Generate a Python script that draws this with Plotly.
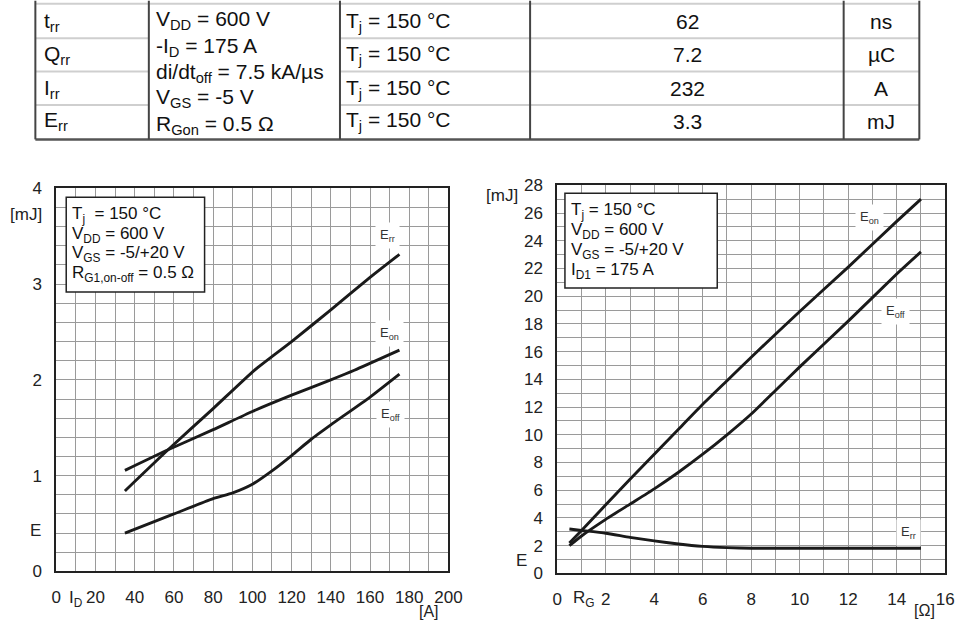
import plotly.graph_objects as go

W, H = 975, 629
# the returned picture shows the page slightly inset; these undo that so marks land
# where the reference has them
SX, CX = 0.985, 6.5
SY, CY = 0.972, 8.3

# ---- table data ----
tbl_symbols = ['t<sub>rr</sub>', 'Q<sub>rr</sub>', 'I<sub>rr</sub>', 'E<sub>rr</sub>']
tbl_conditions = ['V<sub>DD</sub> = 600 V', '-I<sub>D</sub> = 175 A', 'di/dt<sub>off</sub> = 7.5 kA/µs',
                  'V<sub>GS</sub> = -5 V', 'R<sub>Gon</sub> = 0.5 Ω']
tbl_temp = ['T<sub>j</sub> = 150 °C'] * 4
tbl_values = ['62', '7.2', '232', '3.3']
tbl_units = ['ns', 'µC', 'A', 'mJ']

# ---- left chart: E vs I_D ----
id_err = [35, 57, 80, 101, 120, 140, 160, 175]
e_err_id = [0.84, 1.27, 1.70, 2.10, 2.40, 2.73, 3.07, 3.31]
id_eon = [35, 57, 80, 100, 120, 140, 152, 175]
e_eon_id = [1.055, 1.27, 1.48, 1.67, 1.84, 2.0, 2.10, 2.31]
id_eoff = [35, 60, 80, 90, 100, 110, 120, 130, 140, 160, 175]
e_eoff_id = [0.4, 0.6, 0.76, 0.82, 0.91, 1.05, 1.21, 1.38, 1.53, 1.82, 2.06]

# ---- right chart: E vs R_G ----
rg_eon = [0.5, 1, 2, 3, 4, 5, 6, 7, 8, 10, 12, 14, 15]
e_eon_rg = [2.2, 3.1, 4.95, 6.8, 8.6, 10.4, 12.2, 13.9, 15.6, 18.9, 22.1, 25.4, 27.0]
rg_eoff = [0.5, 1, 2, 3, 4, 5, 6, 7, 8, 9, 10, 12, 14, 15]
e_eoff_rg = [2.0, 2.7, 3.9, 5.0, 6.1, 7.3, 8.6, 10.0, 11.5, 13.2, 14.9, 18.2, 21.6, 23.2]
rg_err = [0.5, 1, 2, 3, 4, 5, 6, 7, 8, 10, 12, 15]
e_err_rg = [3.2, 3.1, 2.9, 2.6, 2.35, 2.12, 1.95, 1.86, 1.82, 1.82, 1.82, 1.82]

box_left = ['T<sub>j</sub>  = 150 °C', 'V<sub>DD</sub> = 600 V', 'V<sub>GS</sub> = -5/+20 V',
            'R<sub>G1,on-off</sub> = 0.5 Ω']
box_right = ['T<sub>j</sub> = 150 °C', 'V<sub>DD</sub> = 600 V', 'V<sub>GS</sub> = -5/+20 V',
             'I<sub>D1</sub> = 175 A']


def px(x):
    return (x - CX) / SX / W


def py(y):
    return 1 - (y - CY) / SY / H


FONT = 'Arial, Liberation Sans, sans-serif'
INK = '#1a1a1a'
GRID = '#9a9a9a'

fig = go.Figure()

curve = dict(color=INK, width=2.9, shape='spline', smoothing=0.5)
for xs, ys in [(id_err, e_err_id), (id_eon, e_eon_id), (id_eoff, e_eoff_id)]:
    fig.add_trace(go.Scatter(x=xs, y=ys, mode='lines', line=curve, showlegend=False,
                             hoverinfo='skip', xaxis='x', yaxis='y'))
for xs, ys in [(rg_eon, e_eon_rg), (rg_eoff, e_eoff_rg), (rg_err, e_err_rg)]:
    fig.add_trace(go.Scatter(x=xs, y=ys, mode='lines', line=curve, showlegend=False,
                             hoverinfo='skip', xaxis='x2', yaxis='y2'))


def axis(domain, rng, dtick, minor, anchor):
    return dict(domain=domain, range=rng, dtick=dtick, tick0=0, anchor=anchor,
                showline=True, mirror=True, linecolor='#222', linewidth=2,
                showgrid=True, gridcolor=GRID, gridwidth=1, zeroline=False,
                minor=dict(dtick=minor, tick0=0, showgrid=True, gridcolor=GRID, gridwidth=1),
                ticks='', ticklabelstandoff=9,
                tickfont=dict(family=FONT, size=17, color='#222'), fixedrange=True)


annotations = []
shapes = []


def text(x, y, s, size=17, xanchor='center', bg=None, color='#222'):
    a = dict(xref='paper', yref='paper', x=px(x), y=py(y), text=s, showarrow=False,
             xanchor=xanchor, yanchor='middle', font=dict(family=FONT, size=size, color=color))
    if bg:
        a.update(bgcolor=bg, borderpad=4)
    annotations.append(a)


def line(x0, y0, x1, y1, color, width):
    shapes.append(dict(type='line', xref='paper', yref='paper', x0=px(x0), y0=py(y0),
                       x1=px(x1), y1=py(y1), line=dict(color=color, width=width)))


# ---- table ----
cols = [37, 151, 343, 534, 849, 925]
rows = [3, 37.5, 71, 104.5, 139]
line(cols[0], rows[0], cols[-1], rows[0], '#cfcfcf', 2)
for yy in rows[1:-1]:
    line(cols[0], yy, cols[1], yy, '#cfcfcf', 2)
    line(cols[2], yy, cols[-1], yy, '#cfcfcf', 2)
line(cols[0], rows[-1], cols[-1], rows[-1], '#555', 2.5)
for xx in cols:
    line(xx, 0, xx, rows[-1], '#444', 2)

row_mid = [21, 54, 88, 121]
for i in range(4):
    text(44, row_mid[i], tbl_symbols[i], size=21, xanchor='left', color='#111')
    text(347, row_mid[i], tbl_temp[i], size=21, xanchor='left', color='#111')
    text(692, row_mid[i], tbl_values[i], size=21, color='#111')
    text(887, row_mid[i], tbl_units[i], size=21, color='#111')
cond_mid = [19, 46, 72, 98, 125]
for i, s in enumerate(tbl_conditions):
    text(156, cond_mid[i], s, size=21, xanchor='left', color='#111')

# ---- info boxes ----
shapes.append(dict(type='rect', xref='paper', yref='paper', x0=px(68), x1=px(207),
                   y0=py(292), y1=py(197), fillcolor='white', line=dict(color='#222', width=1.5),
                   layer='above'))
shapes.append(dict(type='rect', xref='paper', yref='paper', x0=px(569), x1=px(722),
                   y0=py(288), y1=py(193), fillcolor='white', line=dict(color='#222', width=1.5),
                   layer='above'))
for i, s in enumerate(box_left):
    text(72, 215 + 19.5 * i, s, size=17, xanchor='left', color='#111')
for i, s in enumerate(box_right):
    text(573, 211 + 20 * i, s, size=17, xanchor='left', color='#111')

# ---- curve labels ----
text(391, 235, 'E<sub>rr</sub>', size=13, bg='white', color='#333')
text(393, 334, 'E<sub>on</sub>', size=13, bg='white', color='#333')
text(394, 415, 'E<sub>off</sub>', size=13, bg='white', color='#333')
text(875, 217, 'E<sub>on</sub>', size=13, bg='white', color='#333')
text(901, 311, 'E<sub>off</sub>', size=13, bg='white', color='#333')
text(914, 533, 'E<sub>rr</sub>', size=13, bg='white', color='#333')

# ---- axis captions ----
text(28, 214, '[mJ]', size=17)
text(37, 531, 'E', size=17)
text(78, 600, 'I<sub>D</sub>', size=17)
text(432, 612, '[A]', size=16)
text(506, 195, '[mJ]', size=17)
text(525, 561, 'E', size=17)
text(588, 600, 'R<sub>G</sub>', size=17)
text(930, 611, '[Ω]', size=16)

fig.update_layout(
    width=W, height=H, autosize=False,
    margin=dict(l=0, r=0, t=0, b=0),
    paper_bgcolor='white', plot_bgcolor='white',
    xaxis=axis([px(58), px(452)], [0, 200], 20, 10, 'y'),
    yaxis=axis([py(572), py(188)], [0, 4], 1, 0.2, 'x'),
    xaxis2=axis([px(561.3), px(951)], [0, 16], 2, 1, 'y2'),
    yaxis2=axis([py(574), py(185)], [0, 28], 2, 1, 'x2'),
    shapes=shapes, annotations=annotations,
)

# drop the default page margin so the figure sits at the window's corner
fig.write_html("out.html", config={'displayModeBar': False},
               post_script="document.body.style.margin='0';"
                           "document.documentElement.style.overflow='hidden';")
